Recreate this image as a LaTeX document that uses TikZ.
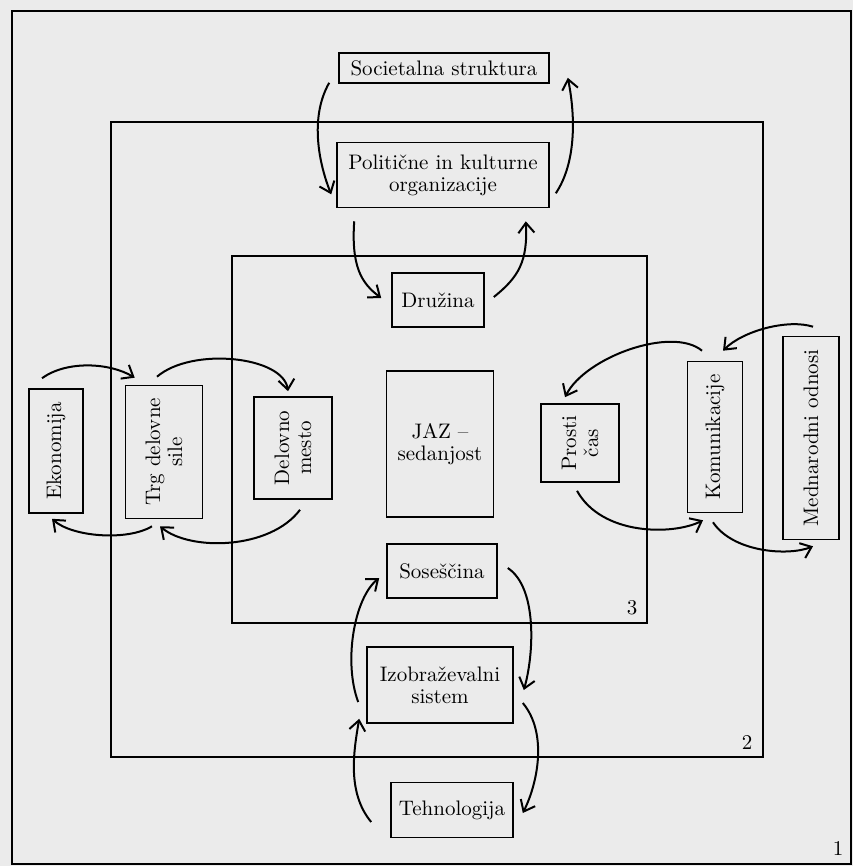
\documentclass[tikz,border=0pt]{standalone}
\usetikzlibrary{arrows.meta}
\tikzset{
    %Define standard arrow tip
    >={Straight Barb[length=5pt,width=8pt]},
    %Define style for boxes
    polje/.style={
           rectangle,
           draw=black, line width=0.8pt,
           inner sep=1pt,
           align=center,
           font=\fontsize{10.5}{11}\selectfont},
    %Define style for the frames
    okvir/.style={
           draw=black, line width=1.4pt},
    stevilka/.style={
           inner sep=0pt,
           font=\fontsize{10.5}{11}\selectfont},
    % Define arrow style
    puscica/.style={
           ->,
           line width=1pt}
}
\begin{document}
\begin{tikzpicture}[x=0.5pt,y=-0.5pt]
\fill[black!8] (0,0) rectangle (853,866);
% frames 1, 2, 3
\draw[okvir] (12,11) rectangle (851,864);
\draw[okvir] (111,122) rectangle (763,757);
\draw[okvir] (232,256) rectangle (647,623);
\node[stevilka] (n1) at (838,848) {1};
\node[stevilka] (n2) at (747,742) {2};
\node[stevilka] (n3) at (632,608) {3};
% top
\node[polje, minimum width=105pt, minimum height=15pt] (soc) at (444,68) {Societalna struktura};
\node[polje, minimum width=106pt, minimum height=32.5pt] (pol) at (443,175) {Politične in kulturne\\organizacije};
\node[polje, minimum width=46pt, minimum height=27pt] (dru) at (438,300) {Družina};
% left
\node[polje, rotate=90, minimum width=62pt, minimum height=27pt] (eko) at (56,451) {Ekonomija};
\node[polje, rotate=90, minimum width=66.5pt, minimum height=38.5pt] (trg) at (164,452) {Trg delovne\\sile};
\node[polje, rotate=90, minimum width=51pt, minimum height=39pt] (del) at (293,448) {Delovno\\mesto};
% centre
\node[polje, minimum width=53.5pt, minimum height=73pt] (jaz) at (440,444) {JAZ --\\sedanjost};
% right
\node[polje, rotate=90, minimum width=39pt, minimum height=39pt] (pro) at (580,443) {Prosti\\čas};
\node[polje, rotate=90, minimum width=75.5pt, minimum height=27.5pt] (kom) at (715,437) {Komunikacije};
\node[polje, rotate=90, minimum width=101.5pt, minimum height=28pt] (med) at (811,438) {Mednarodni odnosi};
% bottom
\node[polje, minimum width=55pt, minimum height=27pt] (sos) at (442,571) {Soseščina};
\node[polje, minimum width=73pt, minimum height=38pt] (izo) at (440,685) {Izobraževalni\\sistem};
\node[polje, minimum width=61pt, minimum height=27.5pt] (teh) at (452,810) {Tehnologija};
% arrows top
\draw[puscica] ([shift={(-9,-1)}]soc.south west) .. controls +(-20,35) and +(-12,-30) .. ([shift={(-5,-14)}]pol.south west);
\draw[puscica] ([shift={(6,-15)}]pol.south east) .. controls +(20,-30) and +(8,40) .. ([shift={(18,-6)}]soc.south east);
\draw[puscica] ([shift={(18,13)}]pol.south west) .. controls +(-3,45) and +(-20,-15) .. ([shift={(-10,-2)}]dru.west);
\draw[puscica] ([shift={(9,-3)}]dru.east) .. controls +(25,-20) and +(2,40) .. ([shift={(-24,13)}]pol.south east);
% arrows left
\draw[puscica] ([shift={(-14,-10)}]eko.east) .. controls +(25,-18) and +(-25,-15) .. ([shift={(10,-7)}]trg.north east);
\draw[puscica] ([shift={(-7,-8)}]trg.east) .. controls +(35,-30) and +(-5,-35) .. ([shift={(-5,-5)}]del.east);
\draw[puscica] ([shift={(7,10)}]del.west) .. controls +(-30,40) and +(30,25) .. ([shift={(-4,7)}]trg.west);
\draw[puscica] ([shift={(-12,7)}]trg.west) .. controls +(-25,15) and +(20,18) .. ([shift={(-4,5)}]eko.west);
% arrows right
\draw[puscica] ([shift={(-13,-10)}]kom.east) .. controls +(-30,-25) and +(20,-40) .. ([shift={(-15,-6)}]pro.east);
\draw[puscica] ([shift={(2,-9)}]med.east) .. controls +(-25,-8) and +(20,-20) .. ([shift={(8,-10)}]kom.east);
\draw[puscica] ([shift={(-3,8)}]pro.west) .. controls +(25,45) and +(-30,15) .. ([shift={(-12,7)}]kom.west);
\draw[puscica] ([shift={(-2,9)}]kom.west) .. controls +(20,30) and +(-25,10) .. ([shift={(2,6)}]med.west);
% arrows bottom
\draw[puscica] ([shift={(-8,17)}]izo.west) .. controls +(-15,-40) and +(-25,20) .. ([shift={(-7,7)}]sos.west);
\draw[puscica] ([shift={(10,-3)}]sos.east) .. controls +(30,20) and +(10,-35) .. ([shift={(10,5)}]izo.east);
\draw[puscica] ([shift={(-19,12)}]teh.west) .. controls +(-25,-30) and +(-5,30) .. ([shift={(-7,-5)}]izo.south west);
\draw[puscica] ([shift={(9,18)}]izo.east) .. controls +(25,30) and +(15,-30) .. ([shift={(9,3)}]teh.east);
\end{tikzpicture}
\end{document}
